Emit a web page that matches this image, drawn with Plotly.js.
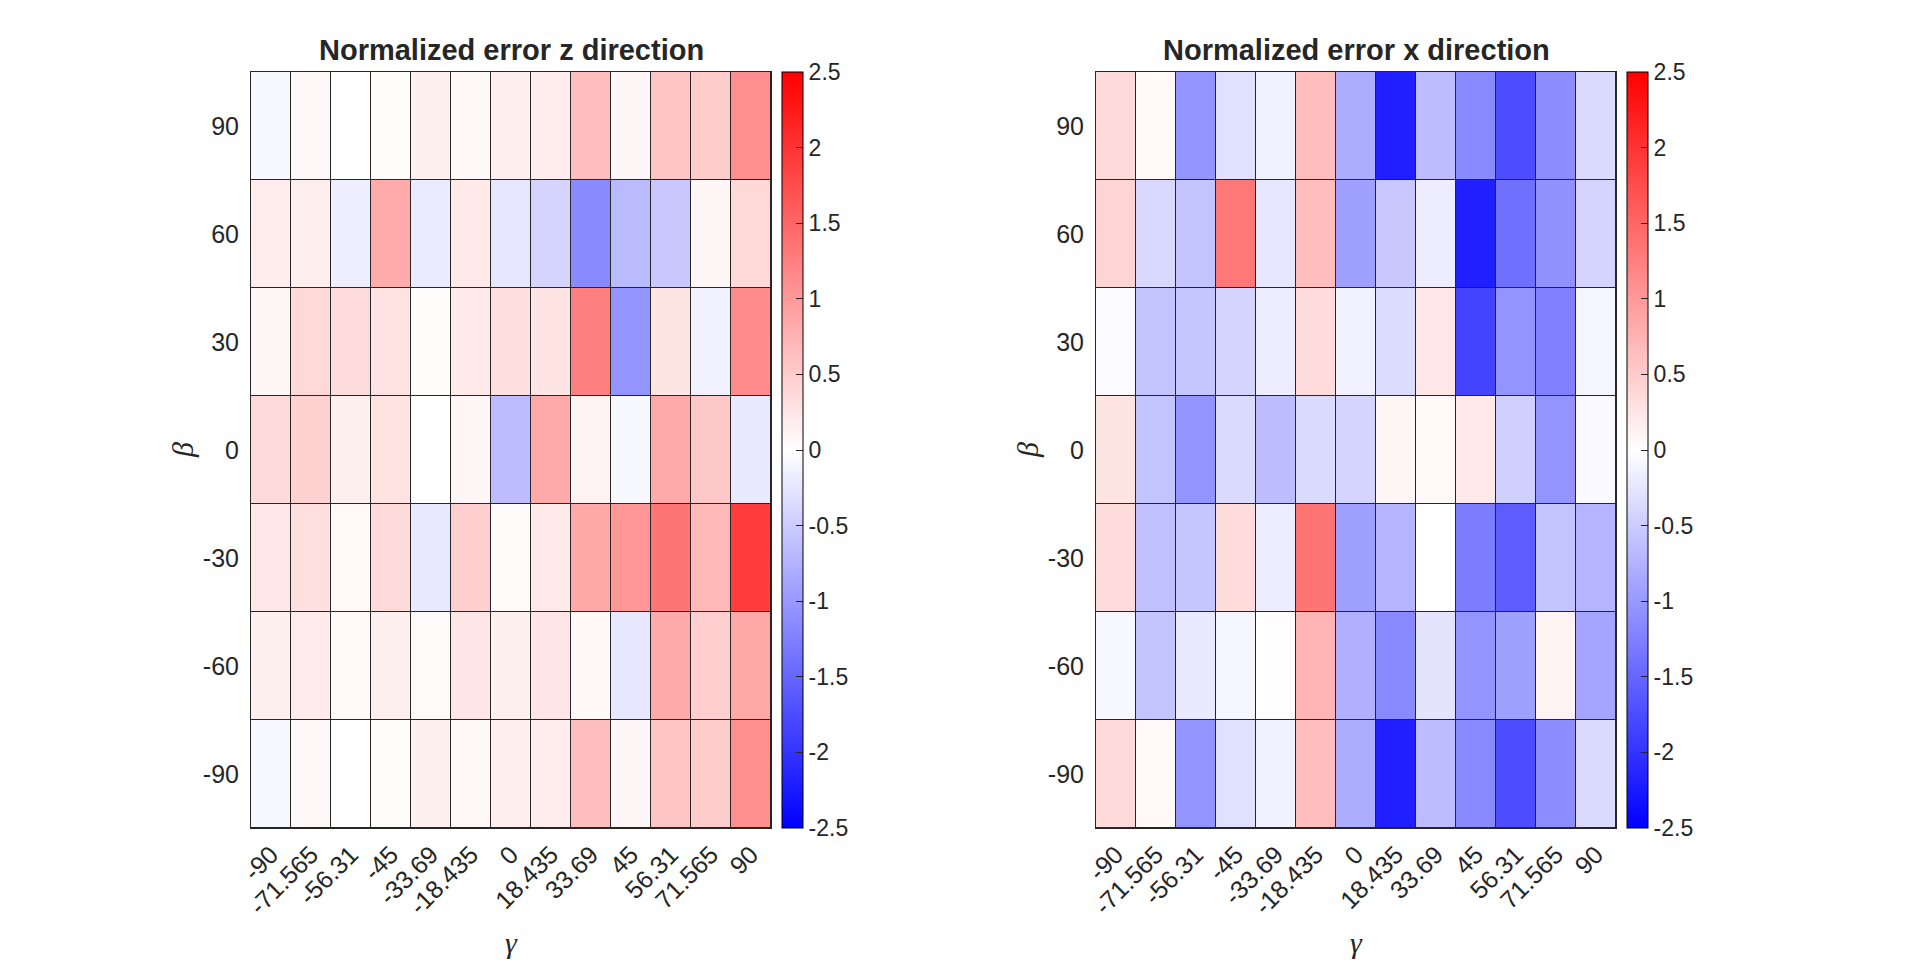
<!DOCTYPE html>
<html>
<head>
<meta charset="utf-8">
<script src="https://cdn.plot.ly/plotly-3.0.1.min.js"></script>
<style>html,body{margin:0;padding:0;background:#fff;}#chart{width:1920px;height:963px;}</style>
</head>
<body>
<div id="chart"></div>
<script>
// Categories
const gammaLabels = ['-90','-71.565','-56.31','-45','-33.69','-18.435','0','18.435','33.69','45','56.31','71.565','90'];
const betaLabels = ['-90','-60','-30','0','30','60','90'];

// Normalized error, z direction (one array per beta row)
const zErr_b90  = [-0.07, 0.07, 0.00, 0.03, 0.15, 0.07, 0.17, 0.18, 0.65, 0.08, 0.58, 0.50, 1.10];
const zErr_b60  = [0.18, 0.17, -0.17, 0.82, -0.20, 0.22, -0.25, -0.42, -1.15, -0.68, -0.54, 0.09, 0.38];
const zErr_b30  = [0.09, 0.38, 0.34, 0.28, 0.03, 0.22, 0.32, 0.26, 1.25, -1.05, 0.26, -0.14, 1.13];
const zErr_b0   = [0.36, 0.44, 0.15, 0.28, 0.00, 0.08, -0.66, 0.83, 0.13, -0.07, 0.83, 0.54, -0.22];
const zErr_bm30 = [0.24, 0.30, 0.06, 0.36, -0.22, 0.48, 0.04, 0.22, 0.85, 1.02, 1.35, 0.69, 1.90];
const zErr_bm60 = [0.15, 0.20, 0.06, 0.15, 0.05, 0.25, 0.15, 0.25, 0.07, -0.24, 0.83, 0.48, 0.85];
const zErr_bm90 = [-0.07, 0.07, 0.00, 0.03, 0.15, 0.07, 0.17, 0.18, 0.65, 0.08, 0.58, 0.50, 1.10];

// Normalized error, x direction (one array per beta row)
const xErr_b90  = [0.36, 0.06, -1.05, -0.30, -0.14, 0.65, -0.80, -2.20, -0.66, -1.15, -1.75, -1.12, -0.35];
const xErr_b60  = [0.42, -0.38, -0.58, 1.32, -0.24, 0.65, -0.93, -0.54, -0.18, -2.20, -1.40, -1.08, -0.42];
const xErr_b30  = [-0.05, -0.58, -0.56, -0.42, -0.18, 0.34, -0.14, -0.34, 0.24, -1.83, -1.05, -1.25, -0.10];
const xErr_b0   = [0.26, -0.58, -1.05, -0.35, -0.66, -0.35, -0.42, 0.09, 0.06, 0.22, -0.46, -1.05, -0.06];
const xErr_bm30 = [0.34, -0.62, -0.56, 0.34, -0.18, 1.35, -0.93, -0.73, 0.00, -1.28, -1.60, -0.58, -0.73];
const xErr_bm60 = [-0.08, -0.58, -0.22, -0.10, 0.02, 0.73, -0.77, -1.15, -0.26, -1.05, -0.93, 0.13, -0.88];
const xErr_bm90 = [0.36, 0.06, -1.05, -0.30, -0.14, 0.65, -0.80, -2.20, -0.66, -1.15, -1.75, -1.12, -0.35];

const cbTickVals = [-2.5,-2,-1.5,-1,-0.5,0,0.5,1,1.5,2,2.5];
const cbTickText = ['-2.5','-2','-1.5','-1','-0.5','0','0.5','1','1.5','2','2.5'];

// z matrices in beta order (bottom to top)
const zMatrix = [zErr_bm90, zErr_bm60, zErr_bm30, zErr_b0, zErr_b30, zErr_b60, zErr_b90];
const xMatrix = [xErr_bm90, xErr_bm60, xErr_bm30, xErr_b0, xErr_b30, xErr_b60, xErr_b90];

const W = 1920, H = 963;
const px = v => v / W;
const py = v => 1 - v / H;

const TXT = '#262626';
const colorscale = [[0, 'rgb(0,0,255)'], [0.5, 'rgb(255,255,255)'], [1, 'rgb(255,0,0)']];

function cb(xLeft) {
  return {
    x: px(xLeft), xanchor: 'left', xpad: 0,
    y: py(450), yanchor: 'middle', ypad: 0,
    len: 756, lenmode: 'pixels',
    thickness: 21, thicknessmode: 'pixels',
    outlinecolor: '#000', outlinewidth: 1,
    tickmode: 'array', tickvals: cbTickVals, ticktext: cbTickText,
    ticks: 'inside', ticklen: 7, tickcolor: TXT, tickwidth: 1,
    tickfont: {family: 'Liberation Sans, Arial, sans-serif', size: 23, color: TXT}
  };
}

const traces = [
  {
    type: 'heatmap', x: gammaLabels, y: betaLabels, z: zMatrix,
    colorscale: colorscale, zmin: -2.5, zmax: 2.5,
    xgap: 1, ygap: 1, xaxis: 'x', yaxis: 'y',
    colorbar: cb(782)
  },
  {
    type: 'heatmap', x: gammaLabels, y: betaLabels, z: xMatrix,
    colorscale: colorscale, zmin: -2.5, zmax: 2.5,
    xgap: 1, ygap: 1, xaxis: 'x2', yaxis: 'y2',
    colorbar: cb(1627)
  }
];

const tickFont = {family: 'Liberation Sans, Arial, sans-serif', size: 25, color: TXT};

function xAxis(d0, d1, anchor) {
  return {
    domain: [px(d0), px(d1)], anchor: anchor,
    type: 'category', categoryorder: 'array', categoryarray: gammaLabels,
    tickangle: -45, ticks: '', tickfont: tickFont, ticklabelstandoff: 1,
    showline: true, mirror: true, linecolor: TXT, linewidth: 1,
    showgrid: false, zeroline: false, fixedrange: true, automargin: false
  };
}
function yAxis(anchor) {
  return {
    domain: [py(828), py(72)], anchor: anchor,
    type: 'category', categoryorder: 'array', categoryarray: betaLabels,
    ticks: '', tickfont: tickFont, ticklabelstandoff: 6,
    showline: true, mirror: true, linecolor: TXT, linewidth: 1,
    showgrid: false, zeroline: false, fixedrange: true, automargin: false
  };
}

const titleFont = {family: 'Liberation Sans, Arial, sans-serif', size: 29, color: TXT};
const symFont = {family: 'Liberation Serif, Times New Roman, serif', size: 30, color: TXT};

const layout = {
  width: W, height: H,
  margin: {l: 0, r: 0, t: 0, b: 0},
  paper_bgcolor: '#ffffff',
  plot_bgcolor: '#262626',
  showlegend: false,
  xaxis: xAxis(251, 771, 'y'),
  yaxis: yAxis('x'),
  xaxis2: xAxis(1096, 1616, 'y2'),
  yaxis2: yAxis('x2'),
  annotations: [
    {text: '<b>Normalized error z direction</b>', xref: 'paper', yref: 'paper', x: px(511), y: py(68), xanchor: 'center', yanchor: 'bottom', showarrow: false, font: titleFont},
    {text: '<b>Normalized error x direction</b>', xref: 'paper', yref: 'paper', x: px(1356), y: py(68), xanchor: 'center', yanchor: 'bottom', showarrow: false, font: titleFont},
    {text: '<i>γ</i>', xref: 'paper', yref: 'paper', x: px(511), y: py(942), xanchor: 'center', yanchor: 'middle', showarrow: false, font: symFont},
    {text: '<i>γ</i>', xref: 'paper', yref: 'paper', x: px(1356), y: py(942), xanchor: 'center', yanchor: 'middle', showarrow: false, font: symFont},
    {text: '<i>β</i>', xref: 'paper', yref: 'paper', x: px(182), y: py(450), xanchor: 'center', yanchor: 'middle', textangle: -90, showarrow: false, font: symFont},
    {text: '<i>β</i>', xref: 'paper', yref: 'paper', x: px(1027), y: py(450), xanchor: 'center', yanchor: 'middle', textangle: -90, showarrow: false, font: symFont}
  ]
};

Plotly.newPlot('chart', traces, layout, {displayModeBar: false, staticPlot: true});
</script>
</body>
</html>
